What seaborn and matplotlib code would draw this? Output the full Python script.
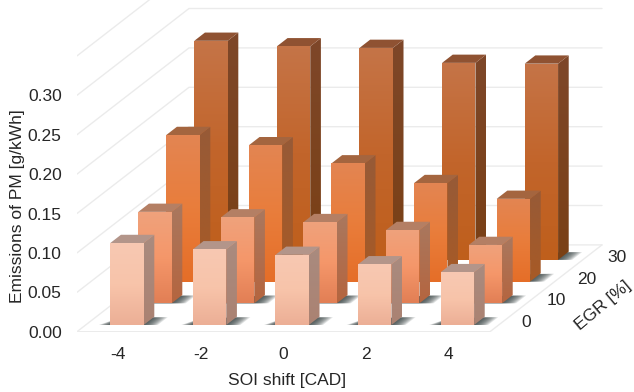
import matplotlib
matplotlib.use("Agg")
import matplotlib.pyplot as plt
from matplotlib.patches import Polygon
import numpy as np
import seaborn as sns

soi_shift = ["-4", "-2", "0", "2", "4"]
egr_levels = ["0", "10", "20", "30"]
value_ticks = [0.00, 0.05, 0.10, 0.15, 0.20, 0.25, 0.30]
wall_top = 0.35

pm_egr_0 = [0.104, 0.096, 0.089, 0.077, 0.067]
pm_egr_10 = [0.116, 0.109, 0.103, 0.093, 0.074]
pm_egr_20 = [0.186, 0.173, 0.150, 0.125, 0.105]
pm_egr_30 = [0.278, 0.271, 0.269, 0.250, 0.249]
pm_by_egr = [pm_egr_0, pm_egr_10, pm_egr_20, pm_egr_30]

# Per EGR level: front-face gradient (top to bottom), side-face gradient, top face
front_colors = [["#F7C8B2", "#F8C4AA", "#ECAF96"],
                ["#EFA27C", "#F5976A", "#E27F55"],
                ["#E38552", "#E97D3B", "#E56E28"],
                ["#C57447", "#C2652B", "#BF5F1C"]]
side_colors = [["#A98B7F", "#AB8272"],
               ["#A9785F", "#B5653F"],
               ["#975A37", "#A85A26"],
               ["#7E4729", "#7A4015"]]
top_colors = ["#B3958A", "#B47F64", "#A4653F", "#8F5232"]

sns.set_theme(style="white", rc={"axes.edgecolor": "none"})
plt.rcParams["font.family"] = ["Liberation Sans", "DejaVu Sans"]
TEXT = "#262626"
GRID = "#EBEBEB"
TICK_SIZE = 12.5
LABEL_SIZE = 12.5

W, H = 634, 392
fig = plt.figure(figsize=(W / 100, H / 100), dpi=100)
LEFT, BASE = 77.0, 331.7
COL_PX, VAL_PX = 82.6, 788.0
ax = fig.add_axes([LEFT / W, (H - BASE) / H, 1 - LEFT / W, BASE / H])
XLIM = (-0.5, -0.5 + (W - LEFT) / COL_PX)
YLIM = (0.0, BASE / VAL_PX)

# Oblique depth: each EGR row shifts right and up by a fixed amount
DX = 28.0 / COL_PX
DY = 21.7 / VAL_PX
BAR_W = 0.404
BAR_D = 0.38


def project(col, row, value):
    return col + row * DX, value + row * DY


def face(points, colors, zorder):
    """Fill a polygon with a vertical gradient running over its own extent."""
    pts = np.array(points)
    ramp = sns.blend_palette(colors, n_colors=64, as_cmap=True)
    grad = np.linspace(1, 0, 64).reshape(-1, 1)
    im = ax.imshow(grad, cmap=ramp, vmin=0, vmax=1, aspect="auto", origin="lower",
                   extent=(pts[:, 0].min(), pts[:, 0].max(), pts[:, 1].min(), pts[:, 1].max()),
                   zorder=zorder, interpolation="bilinear")
    im.set_clip_path(Polygon(pts, transform=ax.transData))


# Walls and floor
n_col, n_row = len(soi_shift), len(egr_levels)
x0, x1 = -0.5, n_col - 0.5
for v in list(value_ticks) + [wall_top]:
    a = project(x0, 0, v)
    b = project(x0, n_row, v)
    c = project(x1, n_row, v)
    ax.plot([a[0], b[0], c[0]], [a[1], b[1], c[1]], color=GRID, lw=1.0, zorder=1)
floor = [project(x0, 0, 0), project(x1, 0, 0), project(x1, n_row, 0)]
ax.plot(*zip(*floor), color=GRID, lw=1.0, zorder=1)

# Bars, back row first so that nearer bars cover farther ones
for r in reversed(range(n_row)):
    z = 10 + (n_row - r) * 10
    for c, h in enumerate(pm_by_egr[r]):
        xl, xr = c - BAR_W / 2, c + BAR_W / 2
        rf, rb = r + 0.5 - BAR_D / 2, r + 0.5 + BAR_D / 2

        # soft cast shadow on the floor, denser towards the bar
        for g in np.linspace(1.0, 0.05, 11):
            shadow = [project(xl - 0.14 * g, rf, 0), project(xr + 0.17 * g, rf, 0),
                      project(xr + 0.17 * g, rb - 0.02, 0), project(xl - 0.02 * g, rb - 0.1, 0)]
            ax.add_patch(Polygon(shadow, closed=True, facecolor="#354040",
                                 edgecolor="none", alpha=0.14, zorder=z))

        face([project(xl, rf, 0), project(xr, rf, 0), project(xr, rf, h), project(xl, rf, h)],
             front_colors[r], z + 3)
        face([project(xr, rf, 0), project(xr, rb, 0), project(xr, rb, h), project(xr, rf, h)],
             side_colors[r], z + 2)
        ax.add_patch(Polygon([project(xl, rf, h), project(xr, rf, h),
                              project(xr, rb, h), project(xl, rb, h)],
                             closed=True, facecolor=top_colors[r], edgecolor="none", zorder=z + 2))

ax.set_xlim(*XLIM)
ax.set_ylim(*YLIM)
ax.set_xticks(range(n_col), soi_shift)
ax.set_yticks(value_ticks, [f"{v:.2f}" for v in value_ticks])
ax.tick_params(axis="x", length=0, pad=11, labelsize=TICK_SIZE, labelcolor=TEXT)
ax.tick_params(axis="y", length=0, pad=11, labelsize=TICK_SIZE, labelcolor=TEXT)
ax.set_xlabel("SOI shift [CAD]", fontsize=LABEL_SIZE, color=TEXT, labelpad=8, x=(287 - LEFT) / (W - LEFT))
ax.set_ylabel("Emissions of PM [g/kWh]", fontsize=LABEL_SIZE, color=TEXT, labelpad=2,
              y=(BASE - 206) / BASE)
ax.grid(False)
for spine in ax.spines.values():
    spine.set_visible(False)

# Depth axis labels beside the right edge of the floor
for r, label in enumerate(egr_levels):
    px, py = project(x1, r + 0.5, 0)
    ax.text(px + 0.27 + 0.025 * r, py - 0.002, label, fontsize=TICK_SIZE, color=TEXT,
            ha="center", va="center", zorder=200)
ex, ey = project(x1, n_row * 0.5, 0)
ax.text(ex + 0.69, ey - 0.022, "EGR [%]", fontsize=LABEL_SIZE, color=TEXT, rotation=40,
        ha="center", va="center", rotation_mode="anchor", zorder=200, clip_on=False)

fig.savefig("out.png", dpi=100, facecolor="white")
